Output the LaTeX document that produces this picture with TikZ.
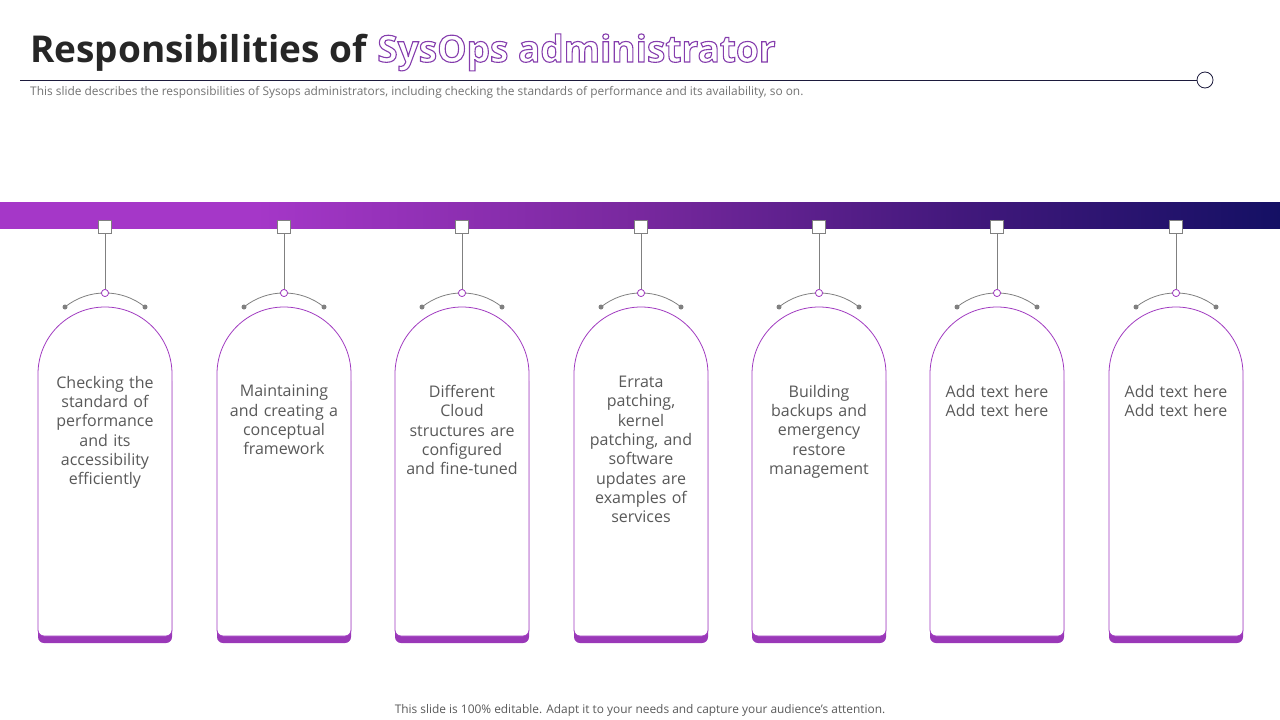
\documentclass[tikz,border=0pt]{standalone}
\usepackage{fontspec}
\setmainfont{Open Sans}
\usepackage{tikz}
\usetikzlibrary{positioning,shadings}

\definecolor{sysviolet}{RGB}{160,58,192}
\definecolor{sysbase}{RGB}{154,56,184}
\definecolor{sysink}{RGB}{38,38,38}
\definecolor{sysgrey}{RGB}{89,89,89}
\definecolor{sysline}{RGB}{128,128,128}
\definecolor{sysnavy}{RGB}{28,26,60}
\definecolor{barleft}{RGB}{165,55,200}
\definecolor{barmid}{RGB}{120,40,158}
\definecolor{barmid2}{RGB}{66,24,124}
\definecolor{barright}{RGB}{20,16,100}

\pgfdeclarehorizontalshading{sysbar}{100bp}{
  color(0bp)=(barleft);
  color(35bp)=(barleft);
  color(50bp)=(barmid);
  color(62.5bp)=(barmid2);
  color(75bp)=(barright);
  color(100bp)=(barright)}

% hollow letters, stroked in violet
\newcommand{\sysoutline}[1]{\special{pdf:literal direct 1 Tr 1.1 w 0.52 0.24 0.68 RG}#1\special{pdf:literal direct 0 Tr}}

\begin{document}
\begin{tikzpicture}[x=1pt,y=-1pt,
    titletxt/.style={font=\fontsize{37}{42}\selectfont\bfseries,inner sep=0pt,anchor=base west},
    smalltxt/.style={font=\fontsize{11.9}{14}\selectfont,text=sysgrey!85!white,inner sep=0pt},
    cardtxt/.style={font=\fontsize{16}{19.3}\selectfont,text=sysgrey,text width=134pt,align=center,inner sep=0pt,anchor=north},
    hook/.style={draw=sysline,fill=white,minimum size=13pt,inner sep=0pt,line width=0.8pt},
    knob/.style={circle,draw=sysviolet,fill=white,minimum size=7pt,inner sep=0pt,line width=0.7pt},
    pin/.style={circle,fill=sysline,minimum size=5pt,inner sep=0pt}]
  \useasboundingbox (0,0) rectangle (1280,720);

  % title
  \node[titletxt,text=sysink] (title) at (30,62) {Responsibilities of};
  \node[titletxt] (sysops) at ([xshift=10pt]title.base east) {\sysoutline{SysOps administrator}};

  \node[circle,draw=sysnavy,fill=white,minimum size=16pt,inner sep=0pt,line width=0.8pt] (endring) at (1205,80) {};
  \coordinate (rulestart) at (20,80);
  \draw[sysnavy,line width=0.8pt] (rulestart) -- (endring);
  \node[smalltxt,anchor=west] (subtitle) at (30,92) {This slide describes the responsibilities of Sysops administrators, including checking the standards of performance and its availability, so on.};

  % bar
  \shade[shading=sysbar] (0,202) rectangle (1280,228);

  % cards
  \foreach \i/\x in {1/105,2/284,3/462,4/641,5/819,6/997,7/1176} {
    \fill[sysbase] (\x-67,381) arc[start angle=180,end angle=360,radius=67]
      {[rounded corners=6pt] -- (\x+67,643) -- (\x-67,643)} -- cycle;
    \draw[sysviolet,fill=white,line width=0.8pt] (\x-67,374) arc[start angle=180,end angle=360,radius=67]
      {[rounded corners=6pt] -- (\x+67,636) -- (\x-67,636)} -- cycle;
    \node[hook] (sq\i) at (\x,227) {};
    \node[knob] (kn\i) at (\x,293) {};
    \node[pin] (pl\i) at (\x-40,307) {};
    \node[pin] (pr\i) at (\x+40,307) {};
    \draw[sysline,line width=0.8pt] (sq\i) -- (kn\i);
    \draw[sysline,line width=0.8pt] (pl\i.center) arc[start angle=-128.7,end angle=-51.3,radius=64];
    \node[knob] at (kn\i) {};
  }

  \node[cardtxt] (txt1) at (105,376) {Checking the\\standard of\\performance\\and its\\accessibility\\efficiently};
  \node[cardtxt] (txt2) at (284,385) {Maintaining\\and creating a\\conceptual\\framework};
  \node[cardtxt] (txt3) at (462,385) {Different\\Cloud\\structures are\\configured\\and fine-tuned};
  \node[cardtxt] (txt4) at (641,376) {Errata\\patching,\\kernel\\patching, and\\software\\updates are\\examples of\\services};
  \node[cardtxt] (txt5) at (819,385) {Building\\backups and\\emergency\\restore\\management};
  \node[cardtxt] (txt6) at (997,385) {Add text here\\Add text here};
  \node[cardtxt] (txt7) at (1176,385) {Add text here\\Add text here};

  % footer
  \node[smalltxt,text=sysgrey] (footer) at (640,710) {This slide is 100\% editable. Adapt it to your needs and capture your audience's attention.};
\end{tikzpicture}
\end{document}
